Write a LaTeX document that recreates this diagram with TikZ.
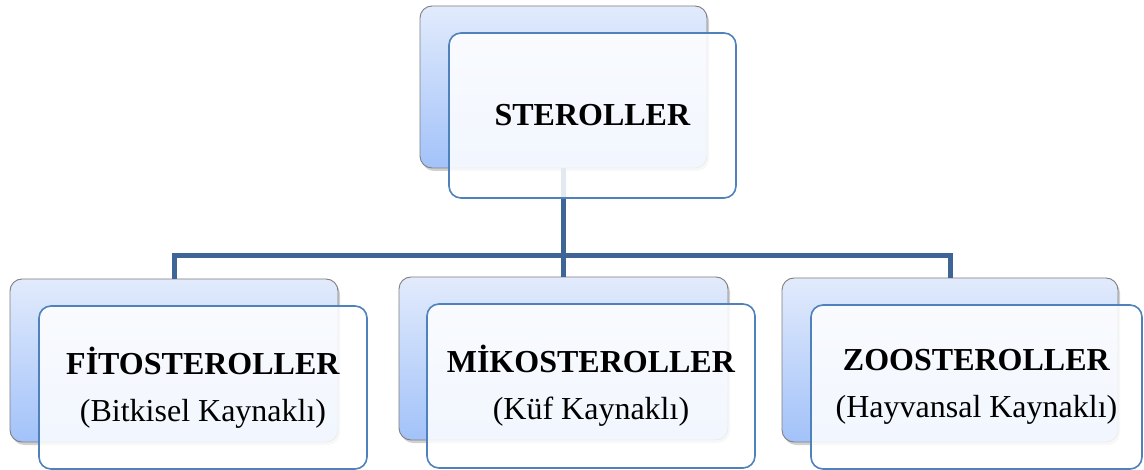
\documentclass[tikz,border=0pt]{standalone}
\usepackage{fontspec}
\setmainfont{Liberation Serif}
\usetikzlibrary{shadows}
\definecolor{backtop}{HTML}{E2EBFC}
\definecolor{backbot}{HTML}{A2C2F9}
\definecolor{backedge}{HTML}{7F7F7F}
\definecolor{frontedge}{HTML}{4F81BD}
\definecolor{connblue}{HTML}{3F6597}
\tikzset{
  backbox/.style={draw=backedge, line width=0.9pt, rounded corners=12pt,
    top color=backtop, bottom color=backbot,
    drop shadow={shadow xshift=2pt, shadow yshift=-3pt, opacity=0.3, fill=black!60},
    inner sep=0pt},
  frontbox/.style={draw=frontedge, line width=1.6pt, rounded corners=12pt,
    fill=white, fill opacity=0.86, text opacity=1, inner sep=0pt,
    align=center, font=\fontsize{32}{47}\selectfont},
  conn/.style={draw=connblue, line width=5pt},
}
\begin{document}
\begin{tikzpicture}[x=1pt,y=-1pt]
\useasboundingbox[fill=white] (0,0) rectangle (1144,470);
% back boxes
\node[backbox, minimum width=287pt, minimum height=162pt] (tb) at (563.5,87) {};
\node[backbox, minimum width=328pt, minimum height=163pt] (lb) at (174,360.5) {};
\node[backbox, minimum width=329pt, minimum height=163pt] (mb) at (563.5,358.5) {};
\node[backbox, minimum width=336pt, minimum height=164pt] (rb) at (950,360) {};
% connectors
\coordinate (bus) at (563.5,256);
\draw[conn] (tb.south) -- (bus);
\draw[conn] (lb.north) |- (bus) -| (rb.north);
\draw[conn] (mb.north) -- (bus);
% front boxes
\node[frontbox, minimum width=287pt, minimum height=165pt] (tf) at (592.5,115.5) {\textbf{STEROLLER}};
\node[frontbox, minimum width=328pt, minimum height=163pt] (lf) at (203,387.5) {\textbf{FİTOSTEROLLER}\\(Bitkisel Kaynaklı)};
\node[frontbox, minimum width=328pt, minimum height=164pt] (mf) at (591,386) {\textbf{MİKOSTEROLLER}\\(Küf Kaynaklı)};
\node[frontbox, minimum width=331pt, minimum height=164pt] (rf) at (976.5,387) {\textbf{ZOOSTEROLLER}\\(Hayvansal Kaynaklı)};
\end{tikzpicture}
\end{document}
